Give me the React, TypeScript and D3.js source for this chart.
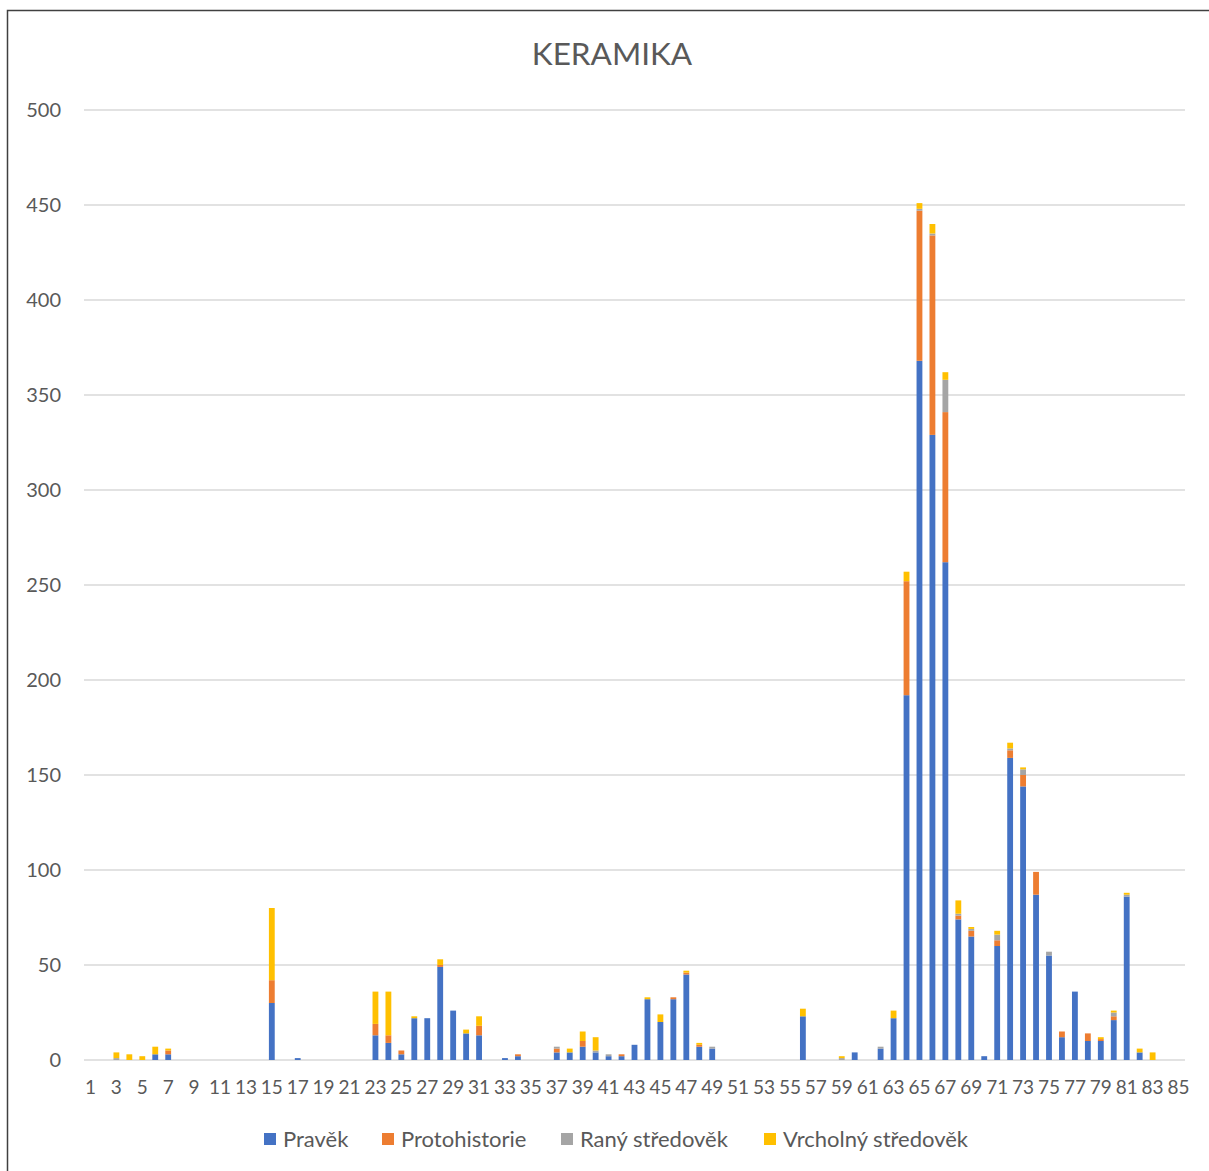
import React, { useEffect, useRef } from 'react';
import * as d3 from 'd3';

// categories 1..85
const categories = d3.range(1, 86).map(String);

// series values per category (index 0 = category 1)
const pravek = [0,0,0,0,0,3,3,0,0,0,0,0,0,0,30,0,1,0,0,0,0,0,13,9,3,22,22,49,26,14,13,0,1,2,0,0,4,4,7,4,2,2,8,32,20,32,45,7,6,0,0,0,0,0,0,23,0,0,0,4,0,6,22,192,368,329,262,74,65,2,60,159,144,87,55,12,36,10,10,21,86,4,0,0,0];
const protohistorie = [0,0,0,0,0,0,2,0,0,0,0,0,0,0,12,0,0,0,0,0,0,0,6,4,2,0,0,1,0,0,5,0,0,1,0,0,2,0,3,0,0,1,0,0,0,1,1,1,0,0,0,0,0,0,0,0,0,0,0,0,0,0,0,60,79,105,79,2,3,0,3,4,6,12,0,3,0,4,1,2,0,0,0,0,0];
const ranyStredovek = [0,0,1,0,0,0,0,0,0,0,0,0,0,0,0,0,0,0,0,0,0,0,0,0,0,0,0,0,0,0,0,0,0,0,0,0,1,0,0,1,1,0,0,0,0,0,0,0,1,0,0,0,0,0,0,0,0,0,1,0,0,1,0,0,1,1,17,1,1,0,3,1,3,0,2,0,0,0,0,2,1,0,0,0,0];
const vrcholnyStredovek = [0,0,3,3,2,4,1,0,0,0,0,0,0,0,38,0,0,0,0,0,0,0,17,23,0,1,0,3,0,2,5,0,0,0,0,0,0,2,5,7,0,0,0,1,4,0,1,1,0,0,0,0,0,0,0,4,0,0,1,0,0,0,4,5,3,5,4,7,1,0,2,3,1,0,0,0,0,0,1,1,1,2,4,0,0];

const seriesNames = ['Pravěk', 'Protohistorie', 'Raný středověk', 'Vrcholný středověk'];
const seriesColors = ['#4472C4', '#ED7D31', '#A5A5A5', '#FFC000'];
const yTicks = [0, 50, 100, 150, 200, 250, 300, 350, 400, 450, 500];
const title = 'KERAMIKA';

const W = 1209, H = 1171;

export default function App() {
  const ref = useRef<SVGSVGElement>(null);

  useEffect(() => {
    const svg = d3.select(ref.current);
    svg.selectAll('*').remove();

    const margin = { top: 110, right: 24, bottom: 111, left: 84 };
    const x = d3.scaleBand().domain(categories).range([margin.left, W - margin.right]).paddingInner(0.55).paddingOuter(0.275);
    const y = d3.scaleLinear().domain([0, 500]).range([H - margin.bottom, margin.top]);

    const font = 'Lato, "Open Sans", sans-serif';
    const textColor = '#595959';

    svg.append('rect').attr('x', 0).attr('y', 0).attr('width', W).attr('height', H).attr('fill', '#fff');
    // chart border
    svg.append('path').attr('d', `M7.5,${H} V10.5 H${W}`).attr('fill', 'none').attr('stroke', '#404040').attr('stroke-width', 1.5);

    // title
    svg.append('text').attr('x', 612).attr('y', 65).attr('text-anchor', 'middle')
      .attr('font-family', font).attr('font-size', 31.5).attr('fill', textColor).text(title);

    // grid
    svg.append('g').selectAll('line').data(yTicks).join('line')
      .attr('x1', margin.left).attr('x2', W - margin.right)
      .attr('y1', d => y(d)).attr('y2', d => y(d))
      .attr('stroke', '#d9d9d9').attr('stroke-width', 1.3);

    svg.append('g').selectAll('text').data(yTicks).join('text')
      .attr('x', 61).attr('y', d => y(d) + 7).attr('text-anchor', 'end')
      .attr('font-family', font).attr('font-size', 20).attr('fill', textColor)
      .text(d => d);

    // x labels (every other)
    svg.append('g').selectAll('text').data(categories.filter((_, i) => i % 2 === 0)).join('text')
      .attr('x', d => (x(d) as number) + x.bandwidth() / 2).attr('y', 1094).attr('text-anchor', 'middle')
      .attr('font-family', font).attr('font-size', 19).attr('fill', textColor)
      .text(d => d);

    // stacked bars
    const table = categories.map((c, i) => ({
      cat: c,
      'Pravěk': pravek[i],
      'Protohistorie': protohistorie[i],
      'Raný středověk': ranyStredovek[i],
      'Vrcholný středověk': vrcholnyStredovek[i],
    }));
    const stacked = d3.stack<any>().keys(seriesNames)(table);
    svg.append('g').selectAll('g').data(stacked).join('g')
      .attr('fill', (_, i) => seriesColors[i])
      .selectAll('rect').data(d => d.filter(p => p[1] > p[0])).join('rect')
      .attr('x', d => x(d.data.cat) as number)
      .attr('width', x.bandwidth())
      .attr('y', d => y(d[1]))
      .attr('height', d => y(d[0]) - y(d[1]));

    // legend
    const legendX = [264, 382, 561, 764];
    const lg = svg.append('g').selectAll('g').data(seriesNames).join('g')
      .attr('transform', (_, i) => `translate(${legendX[i]},1133)`);
    lg.append('rect').attr('width', 12).attr('height', 12).attr('fill', (_, i) => seriesColors[i]);
    lg.append('text').attr('x', 19).attr('y', 14).attr('font-family', font).attr('font-size', 22)
      .attr('fill', textColor).text(d => d);
  }, []);

  return <svg ref={ref} width={W} height={H} style={{ position: 'absolute', left: 0, top: 0 }} />;
}
